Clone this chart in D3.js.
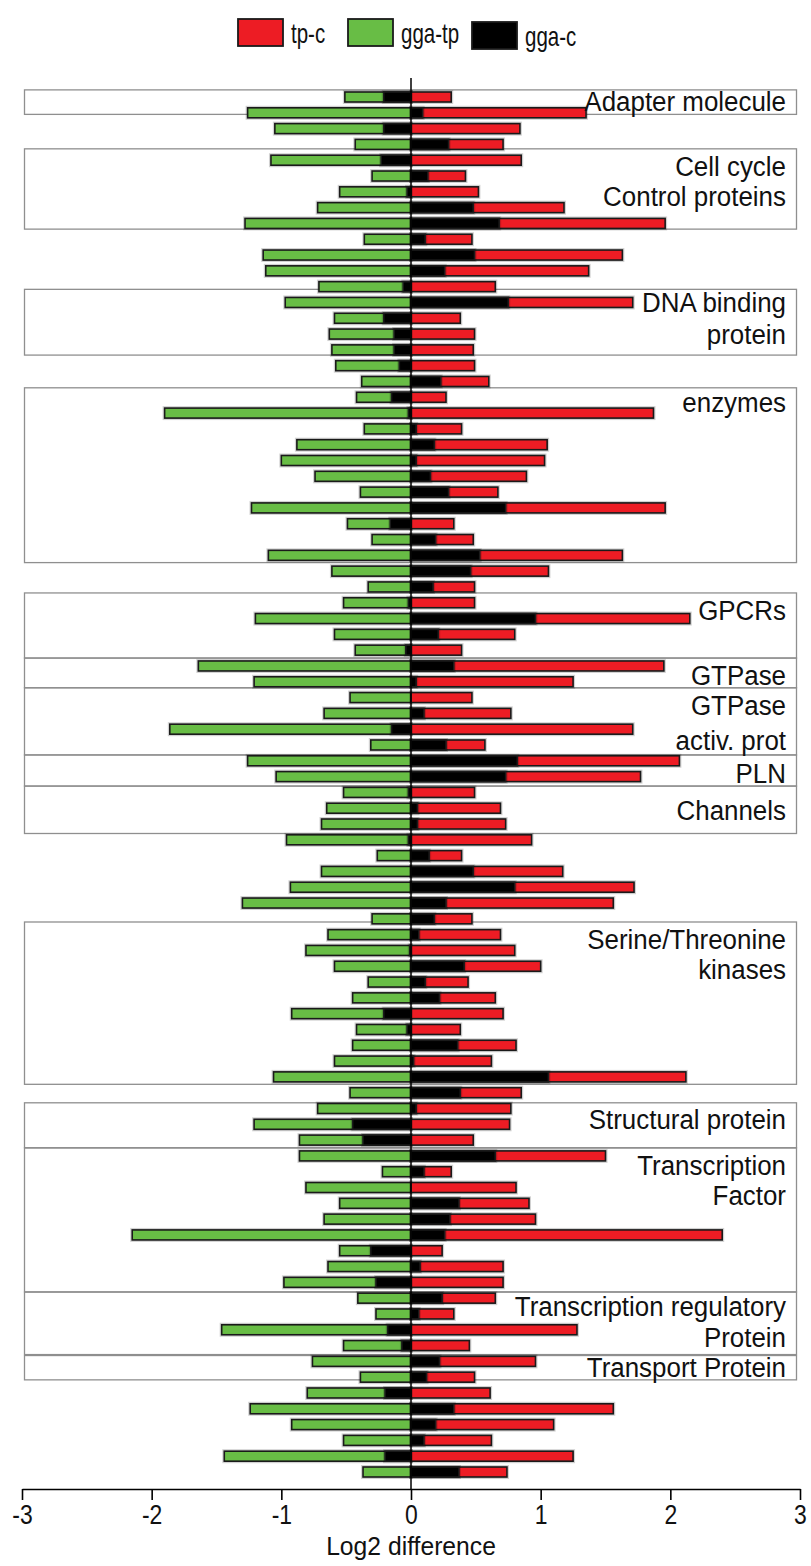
<!DOCTYPE html>
<html lang="en">
<head>
  <meta charset="UTF-8">
  <title>Log2 difference</title>
  <script src="https://d3js.org/d3.v7.min.js"></script>
  <style>
    body { margin: 0; background: #fff; }
    text { font-family: "Liberation Sans", Arial, sans-serif; fill: #111; }
  </style>
</head>
<body>
<div id="chart"></div>
<script>
  // values, one entry per gene row (top to bottom)
  var ggaTp = [-0.51, -1.26, -1.05, -0.43, -1.08, -0.30, -0.55, -0.72, -1.28, -0.36,
    -1.14, -1.12, -0.71, -0.97, -0.59, -0.63, -0.61, -0.58, -0.38, -0.42,
    -1.90, -0.36, -0.88, -1.00, -0.74, -0.39, -1.23, -0.49, -0.30, -1.10,
    -0.61, -0.33, -0.52, -1.20, -0.59, -0.43, -1.64, -1.21, -0.47, -0.67,
    -1.86, -0.31, -1.26, -1.04, -0.52, -0.65, -0.69, -0.96, -0.26, -0.69,
    -0.93, -1.30, -0.30, -0.64, -0.81, -0.59, -0.33, -0.45, -0.92, -0.42,
    -0.45, -0.59, -1.06, -0.47, -0.72, -1.21, -0.86, -0.86, -0.22, -0.81,
    -0.55, -0.67, -2.15, -0.55, -0.64, -0.98, -0.41, -0.27, -1.46, -0.52,
    -0.76, -0.39, -0.80, -1.24, -0.92, -0.52, -1.44, -0.37];

  var ggaC = [-0.21, 0.09, -0.21, 0.29, -0.23, 0.13, -0.03, 0.48, 0.68, 0.11,
    0.49, 0.26, -0.06, 0.75, -0.21, -0.13, -0.13, -0.09, 0.23, -0.15,
    -0.02, 0.04, 0.18, 0.04, 0.15, 0.29, 0.73, -0.16, 0.19, 0.53,
    0.46, 0.17, -0.02, 0.96, 0.21, -0.04, 0.33, 0.04, 0.00, 0.10,
    -0.15, 0.27, 0.82, 0.73, -0.02, 0.05, 0.05, -0.02, 0.14, 0.48,
    0.80, 0.27, 0.18, 0.06, -0.01, 0.41, 0.11, 0.22, -0.21, -0.03,
    0.36, 0.02, 1.06, 0.38, 0.04, -0.45, -0.37, 0.65, 0.10, 0.00,
    0.37, 0.30, 0.26, -0.31, 0.07, -0.27, 0.24, 0.06, -0.18, -0.07,
    0.22, 0.12, -0.20, 0.33, 0.19, 0.10, -0.20, 0.37];

  var tpC = [0.31, 1.35, 0.84, 0.71, 0.85, 0.42, 0.52, 1.18, 1.96, 0.47,
    1.63, 1.37, 0.65, 1.71, 0.38, 0.49, 0.48, 0.49, 0.60, 0.27,
    1.87, 0.39, 1.05, 1.03, 0.89, 0.67, 1.96, 0.33, 0.48, 1.63,
    1.06, 0.49, 0.49, 2.15, 0.80, 0.39, 1.95, 1.25, 0.47, 0.77,
    1.71, 0.57, 2.07, 1.77, 0.49, 0.69, 0.73, 0.93, 0.39, 1.17,
    1.72, 1.56, 0.47, 0.69, 0.80, 1.00, 0.44, 0.65, 0.71, 0.38,
    0.81, 0.62, 2.12, 0.85, 0.77, 0.76, 0.48, 1.50, 0.31, 0.81,
    0.91, 0.96, 2.40, 0.24, 0.71, 0.71, 0.65, 0.33, 1.28, 0.45,
    0.96, 0.49, 0.61, 1.56, 1.10, 0.62, 1.25, 0.74];

  var seriesNames = ["tp-c", "gga-tp", "gga-c"];
  var seriesColors = ["#ed1c24", "#68bd45", "#000000"];
  var tickValues = [-3, -2, -1, 0, 1, 2, 3];
  var tickLabels = ["-3", "-2", "-1", "0", "1", "2", "3"];

  // protein classes: box spans (in row units) and label lines
  var groups = [
    { from: -0.45, to: 1.1, lines: [["Adapter molecule", 0.3]] },
    { from: 3.28, to: 8.36, lines: [["Cell cycle", 4.4], ["Control proteins", 6.25]] },
    { from: 12.17, to: 16.33, lines: [["DNA binding", 13.0], ["protein", 15.0]] },
    { from: 18.4, to: 29.46, lines: [["enzymes", 19.33]] },
    { from: 31.38, to: 35.5, lines: [["GPCRs", 32.45]] },
    { from: 35.5, to: 37.38, lines: [["GTPase", 36.6]] },
    { from: 37.38, to: 41.63, lines: [["GTPase", 38.5], ["activ. prot", 40.7]] },
    { from: 41.63, to: 43.6, lines: [["PLN", 42.8]] },
    { from: 43.6, to: 46.6, lines: [["Channels", 45.1]] },
    { from: 52.2, to: 62.47, lines: [["Serine/Threonine", 53.3], ["kinases", 55.2]] },
    { from: 63.64, to: 66.48, lines: [["Structural protein", 64.7]] },
    { from: 66.5, to: 75.6, lines: [["Transcription", 67.6], ["Factor", 69.5]] },
    { from: 75.62, to: 79.57, lines: [["Transcription regulatory", 76.5], ["Protein", 78.5]] },
    { from: 79.63, to: 81.17, lines: [["Transport Protein", 80.4]] }
  ];

  var width = 811, height = 1566;
  var svg = d3.select("#chart").append("svg")
    .attr("width", width)
    .attr("height", height);

  svg.append("rect").attr("width", width).attr("height", height).attr("fill", "#fff");

  var x = d3.scaleLinear().domain([-3, 3]).range([22, 800]);
  var y = d3.scaleLinear().domain([0, ggaTp.length - 1]).range([97, 1472]);
  var barH = 10;
  var axisY = 1489;

  // narrow-looking text: place with a transform and squeeze horizontally
  function label(parent, tx, ty, str, size, sx, anchor) {
    return parent.append("text")
      .attr("transform", "translate(" + tx + "," + ty + ") scale(" + sx + ",1)")
      .attr("dy", "0.36em")
      .attr("text-anchor", anchor)
      .style("font-size", size + "px")
      .text(str);
  }

  // group boxes (behind everything)
  svg.append("g").selectAll("rect")
    .data(groups)
    .enter().append("rect")
    .attr("x", 24.5)
    .attr("width", 772)
    .attr("y", function (d) { return y(d.from); })
    .attr("height", function (d) { return y(d.to) - y(d.from); })
    .attr("fill", "none")
    .attr("stroke", "#8f8f8f")
    .attr("stroke-width", 1.3);

  var rows = ggaTp.map(function (g, i) {
    return { i: i, g: g, c: ggaC[i], t: tpC[i] };
  });

  function drawBars(key, color) {
    var gBar = svg.append("g");
    // soft grey halo
    gBar.selectAll("rect.halo")
      .data(rows)
      .enter().append("rect")
      .attr("class", "halo")
      .attr("x", function (d) { return Math.min(x(0), x(d[key])); })
      .attr("width", function (d) { return Math.abs(x(d[key]) - x(0)); })
      .attr("y", function (d) { return y(d.i) - barH / 2; })
      .attr("height", barH)
      .attr("fill", "none")
      .attr("stroke", "#000")
      .attr("stroke-opacity", 0.18)
      .attr("stroke-width", 4);
    gBar.selectAll("rect.bar")
      .data(rows)
      .enter().append("rect")
      .attr("class", "bar")
      .attr("x", function (d) { return Math.min(x(0), x(d[key])); })
      .attr("width", function (d) { return Math.abs(x(d[key]) - x(0)); })
      .attr("y", function (d) { return y(d.i) - barH / 2; })
      .attr("height", barH)
      .attr("fill", color)
      .attr("stroke", "#1a1a1a")
      .attr("stroke-width", 1.6);
  }

  drawBars("g", seriesColors[1]);
  drawBars("t", seriesColors[0]);
  drawBars("c", seriesColors[2]);

  // zero line
  svg.append("line")
    .attr("x1", x(0)).attr("x2", x(0))
    .attr("y1", 78).attr("y2", axisY)
    .attr("stroke", "#000")
    .attr("stroke-width", 1.5);

  // group labels
  var lab = svg.append("g");
  groups.forEach(function (d) {
    d.lines.forEach(function (ln) {
      label(lab, 786, y(ln[1]), ln[0], 27, 0.96, "end");
    });
  });

  // x axis
  var axis = d3.axisBottom(x)
    .tickValues(tickValues)
    .tickFormat(function (d, i) { return tickLabels[i]; })
    .tickSize(11)
    .tickSizeOuter(0)
    .tickPadding(5);

  var ax = svg.append("g")
    .attr("transform", "translate(0," + axisY + ")")
    .call(axis);
  ax.attr("font-family", null).attr("font-size", null);
  ax.select(".domain").attr("stroke", "#000").attr("stroke-width", 1.6);
  ax.selectAll(".tick line").attr("stroke", "#000").attr("stroke-width", 1.6);
  ax.selectAll(".tick text")
    .style("font-size", "27px")
    .attr("transform", "scale(0.85,1)")
    .attr("fill", "#111");

  label(svg, x(0), 1546, "Log2 difference", 26, 0.95, "middle");

  // legend
  var legendX = [238, 348, 472];
  var legendDy = [0, 0, 3];
  var leg = svg.append("g");
  seriesNames.forEach(function (name, i) {
    leg.append("rect")
      .attr("x", legendX[i])
      .attr("y", 19 + legendDy[i])
      .attr("width", 45)
      .attr("height", 27)
      .attr("fill", seriesColors[i])
      .attr("stroke", "#1a1a1a")
      .attr("stroke-width", 1.8);
    label(leg, legendX[i] + 53, 33 + legendDy[i], name, 27, 0.76, "start");
  });
</script>
</body>
</html>
